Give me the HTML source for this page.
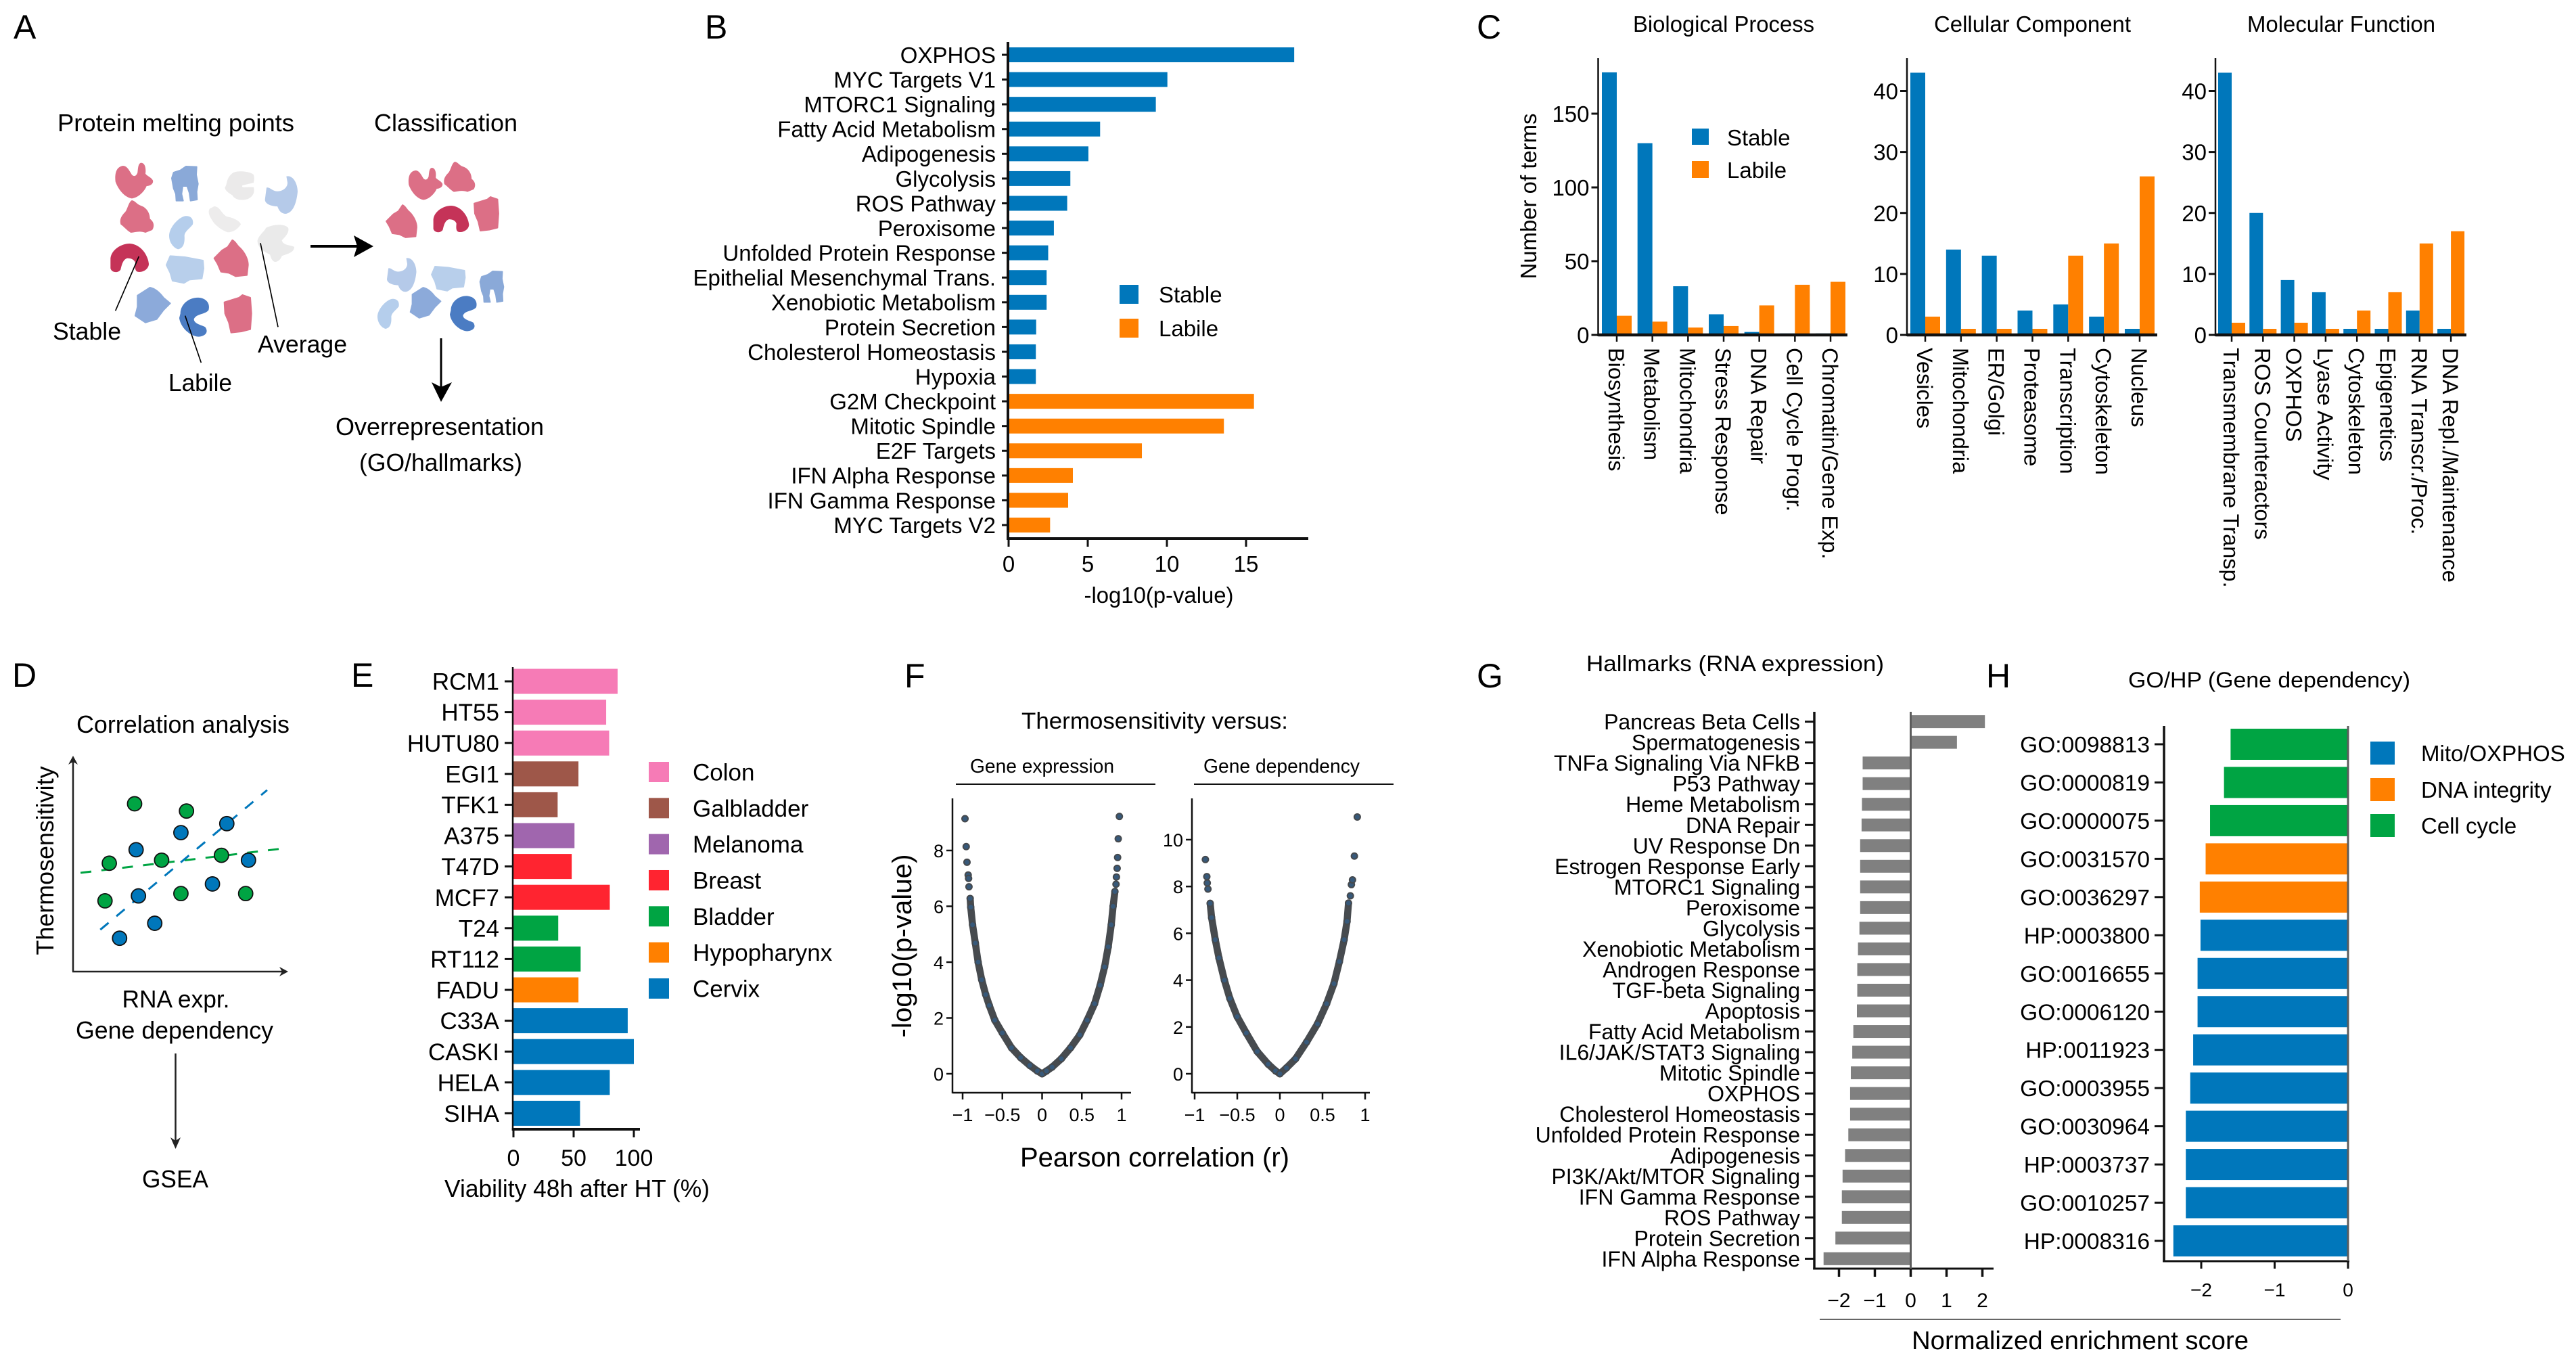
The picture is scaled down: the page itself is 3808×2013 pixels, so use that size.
<!DOCTYPE html>
<html lang="en">
<head>
<meta charset="utf-8">
<title>Thermosensitivity figure</title>
<style>
html,body{margin:0;padding:0;background:#fff;}
svg{display:block;}
text{font-family:"Liberation Sans",Arial,sans-serif;fill:#000;}
.letter{font-size:50px;fill:#000;}
.t36{font-size:36px;}
.t33{font-size:33px;}
</style>
</head>
<body>
<svg id="figure" width="3808" height="2013" viewBox="0 0 3808 2013">
<rect x="0" y="0" width="3808" height="2013" fill="#ffffff"/>
<defs>
<path id="p1" d="M245,135 C215,140 208,170 212,205 C222,235 250,275 285,280 C320,275 345,240 350,225 C365,225 382,215 378,200 C370,185 350,180 345,170 C348,150 345,122 325,122 C312,125 312,150 310,165 C305,180 295,185 285,175 C275,160 265,135 245,135 Z" fill="#dc6f86"/>
<path id="p2" d="M470,165 L500,155 L525,138 L572,140 L570,175 L578,215 L572,250 L574,285 L545,290 L540,255 L530,225 L510,225 L505,260 L512,290 L482,290 L480,260 L470,235 L462,190 Z" fill="#8aa9d8" stroke="#8aa9d8" stroke-width="6" stroke-linejoin="round"/>
<path id="p3" d="M735,165 C760,155 810,160 825,175 C830,195 825,205 825,210 L775,222 C770,235 785,228 825,230 C830,250 825,270 800,282 C770,292 740,285 730,265 C710,255 695,240 698,230 C710,215 700,190 735,165 Z" fill="#ebeaea"/>
<path id="p4" d="M970,182 C1000,175 1020,215 1020,250 C1015,300 1000,345 965,348 C940,345 935,325 930,315 C905,315 875,305 875,285 L882,232 C895,228 905,245 925,248 C950,250 975,235 975,210 Z" fill="#b5cae9"/>
<path id="p5" d="M285,288 C300,290 305,305 325,312 C350,320 365,345 365,370 C385,385 385,405 375,420 L345,432 C320,422 300,430 280,432 C260,420 250,405 235,395 C230,375 235,360 255,340 C265,330 270,295 285,288 Z" fill="#dc6f86"/>
<path id="p6" d="M520,358 C545,355 560,370 555,395 C540,415 520,425 518,445 C520,475 515,500 490,505 C470,500 450,475 450,445 C450,410 490,365 520,358 Z" fill="#b5ceec"/>
<path id="p7" d="M650,315 C675,315 680,345 705,360 C735,365 765,380 768,395 C755,415 735,430 710,430 C680,420 650,395 640,375 C630,360 620,340 630,325 Z" fill="#edecec"/>
<path id="p8" d="M880,410 C910,395 960,390 978,410 C985,430 965,450 950,465 C955,490 990,485 1005,495 C1005,520 975,525 950,535 C945,550 930,565 915,560 C895,545 905,530 890,525 C860,510 840,490 842,465 C850,440 870,430 880,410 Z" fill="#eaeaea"/>
<path id="p9" d="M190,545 C195,505 240,480 275,480 C320,482 355,525 360,570 C360,595 330,610 310,605 C295,600 300,575 300,565 C295,550 280,545 265,545 C245,550 240,575 235,595 C225,612 195,610 190,590 Z" fill="#c53358"/>
<path id="p10" d="M455,535 L520,540 L600,555 L603,590 L595,635 L540,640 L515,655 L465,645 L455,610 L438,575 Z" fill="#b8cfeb" stroke="#b8cfeb" stroke-width="6" stroke-linejoin="round"/>
<path id="p11" d="M730,465 C745,470 750,490 765,500 C785,520 800,550 800,575 L795,620 L745,625 L715,610 L680,605 L665,570 L650,545 L685,510 L710,495 Z" fill="#dc6f86" stroke="#dc6f86" stroke-width="6" stroke-linejoin="round"/>
<path id="p12" d="M365,675 C390,680 410,700 425,720 L455,745 L425,775 L395,815 L345,830 L300,800 L310,760 L310,710 Z" fill="#8caada" stroke="#8caada" stroke-width="6" stroke-linejoin="round"/>
<path id="p13" d="M500,790 C500,745 545,715 585,720 C620,725 632,750 625,775 C610,795 570,790 560,815 C560,835 590,840 610,850 C625,870 615,890 580,893 C540,890 500,850 495,810 Z" fill="#4b7cc3"/>
<path id="p14" d="M695,740 L760,720 L775,708 L810,720 L815,790 L810,860 L770,870 L725,875 L715,830 L698,790 Z" fill="#dc6f86" stroke="#dc6f86" stroke-width="6" stroke-linejoin="round"/>
</defs>

<!-- Panel A -->
<g>
<text class="letter" x="20" y="57">A</text>
<text class="t36" x="85" y="194" textLength="350" lengthAdjust="spacingAndGlyphs">Protein melting points</text>
<text class="t36" x="553" y="194" textLength="212" lengthAdjust="spacingAndGlyphs">Classification</text>
<g transform="translate(100,200) scale(0.33333)">
<use href="#p1"/>
<use href="#p2"/>
<use href="#p3"/>
<use href="#p4"/>
<use href="#p5"/>
<use href="#p6"/>
<use href="#p7"/>
<use href="#p8"/>
<use href="#p9"/>
<use href="#p10"/>
<use href="#p11"/>
<use href="#p12"/>
<use href="#p13"/>
<use href="#p14"/>
<line x1="316" y1="537" x2="212" y2="778" stroke="#000" stroke-width="5"/>
<line x1="521" y1="800" x2="592" y2="1008" stroke="#000" stroke-width="5"/>
<line x1="855" y1="478" x2="933" y2="850" stroke="#000" stroke-width="5"/>
</g>
<text class="t36" x="78" y="502" textLength="101" lengthAdjust="spacingAndGlyphs">Stable</text>
<text class="t36" x="381" y="521" textLength="132" lengthAdjust="spacingAndGlyphs">Average</text>
<text class="t36" x="249" y="578" textLength="94" lengthAdjust="spacingAndGlyphs">Labile</text>
<line x1="459" y1="364" x2="530" y2="364" stroke="#000" stroke-width="4"/>
<polygon points="552,364 523,348 528,364 523,380" fill="#000"/>
<use href="#p1" transform="translate(540.6,211.4) scale(.3)"/>
<use href="#p5" transform="translate(584,149.7) scale(.31)"/>
<use href="#p11" transform="translate(376,163.5) scale(.3)"/>
<use href="#p9" transform="translate(581.7,155.2) scale(.31)"/>
<use href="#p14" transform="translate(492.5,78.6) scale(.3)"/>
<use href="#p4" transform="translate(309.5,327) scale(.3)"/>
<use href="#p10" transform="translate(506.6,233.4) scale(.3)"/>
<use href="#p2" transform="translate(571,359.5) scale(.3)"/>
<use href="#p6" transform="translate(423,334.5) scale(.3)"/>
<use href="#p12" transform="translate(519.6,229.2) scale(.29)"/>
<use href="#p13" transform="translate(516.5,221.6) scale(.3)"/>
<line x1="652" y1="500" x2="652" y2="575" stroke="#000" stroke-width="3"/>
<polygon points="652,594 638,565 652,572 668,565" fill="#000"/>
<text class="t36" x="496" y="643" textLength="308" lengthAdjust="spacingAndGlyphs">Overrepresentation</text>
<text class="t36" x="531" y="696" textLength="241" lengthAdjust="spacingAndGlyphs">(GO/hallmarks)</text>
</g>

<!-- Panel B -->
<g id="panel-b">
<text class="letter" x="1042" y="57">B</text>
<text class="t33" x="1713" y="891" text-anchor="middle" textLength="221" lengthAdjust="spacingAndGlyphs">-log10(p-value)</text>
<rect x="1655" y="421" width="28" height="28" fill="#0077bb"/>
<text class="t33" x="1713" y="447">Stable</text>
<rect x="1655" y="471" width="28" height="28" fill="#ff8000"/>
<text class="t33" x="1713" y="497">Labile</text>
</g>

<!-- Panel C -->
<g id="panel-c">
<text class="letter" x="2183" y="57">C</text>
<text class="t33" x="2414" y="47" textLength="268" lengthAdjust="spacingAndGlyphs">Biological Process</text>
<text class="t33" x="2859" y="47" textLength="291" lengthAdjust="spacingAndGlyphs">Cellular Component</text>
<text class="t33" x="3322" y="47" textLength="278" lengthAdjust="spacingAndGlyphs">Molecular Function</text>
<text class="t33" transform="translate(2271,290) rotate(-90)" text-anchor="middle" textLength="245" lengthAdjust="spacingAndGlyphs">Number of terms</text>
<rect x="2501" y="190" width="25" height="24" fill="#0077bb"/>
<text class="t33" x="2553" y="215">Stable</text>
<rect x="2501" y="238" width="25" height="25" fill="#ff8000"/>
<text class="t33" x="2553" y="263">Labile</text>
</g>

<!-- Panel D -->
<g id="panel-d">
<text class="letter" x="18" y="1015">D</text>
<text class="t36" x="113" y="1083" textLength="315" lengthAdjust="spacingAndGlyphs">Correlation analysis</text>
<text class="t36" transform="translate(79,1272) rotate(-90)" text-anchor="middle" textLength="279" lengthAdjust="spacingAndGlyphs">Thermosensitivity</text>
<line x1="108" y1="1125" x2="108" y2="1436" stroke="#222" stroke-width="2.5"/>
<line x1="107" y1="1436" x2="420" y2="1436" stroke="#222" stroke-width="2.5"/>
<polygon points="108,1117 101,1130 108,1126 115,1130" fill="#222"/>
<polygon points="426,1436 413,1429 417,1436 413,1443" fill="#222"/>
<text class="t36" x="260" y="1489" text-anchor="middle" textLength="159" lengthAdjust="spacingAndGlyphs">RNA expr.</text>
<text class="t36" x="258" y="1535" text-anchor="middle" textLength="292" lengthAdjust="spacingAndGlyphs">Gene dependency</text>
<line x1="259.5" y1="1557" x2="259.5" y2="1690" stroke="#222" stroke-width="2.5"/>
<polygon points="259.5,1698 252,1681 259.5,1686 267,1681" fill="#222"/>
<text class="t36" x="259" y="1755" text-anchor="middle" textLength="98" lengthAdjust="spacingAndGlyphs">GSEA</text>
</g>

<!-- Panel E -->
<g id="panel-e">
<text class="letter" x="519" y="1015">E</text>
<text class="t36" x="657" y="1769" textLength="392" lengthAdjust="spacingAndGlyphs">Viability 48h after HT (%)</text>
</g>

<!-- Panel F -->
<g id="panel-f">
<text class="letter" x="1337" y="1016">F</text>
<text x="1510" y="1077" font-size="34" textLength="394" lengthAdjust="spacingAndGlyphs">Thermosensitivity versus:</text>
<text x="1434" y="1142" font-size="29" textLength="213" lengthAdjust="spacingAndGlyphs">Gene expression</text>
<line x1="1413" y1="1159" x2="1708" y2="1159" stroke="#111" stroke-width="2"/>
<text x="1779" y="1142" font-size="29" textLength="231" lengthAdjust="spacingAndGlyphs">Gene dependency</text>
<line x1="1765" y1="1159" x2="2060" y2="1159" stroke="#111" stroke-width="2"/>
<text transform="translate(1347,1398) rotate(-90)" font-size="40" text-anchor="middle" textLength="271" lengthAdjust="spacingAndGlyphs">-log10(p-value)</text>
<text x="1508" y="1724" font-size="40" textLength="398" lengthAdjust="spacingAndGlyphs">Pearson correlation (r)</text>
</g>

<!-- Panel G -->
<g id="panel-g">
<text class="letter" x="2183" y="1016">G</text>
<text x="2345" y="992" font-size="33" textLength="440" lengthAdjust="spacingAndGlyphs">Hallmarks (RNA expression)</text>
<line x1="2690" y1="1950" x2="3460" y2="1950" stroke="#666" stroke-width="2"/>
<text x="2826" y="1994" font-size="38" textLength="498" lengthAdjust="spacingAndGlyphs">Normalized enrichment score</text>
</g>

<!-- Panel H -->
<g id="panel-h">
<text class="letter" x="2936" y="1016">H</text>
<text x="3146" y="1016" font-size="32" textLength="417" lengthAdjust="spacingAndGlyphs">GO/HP (Gene dependency)</text>
<rect x="3504" y="1096" width="36" height="34" fill="#0077bb"/>
<text class="t33" x="3579" y="1125">Mito/OXPHOS</text>
<rect x="3504" y="1150" width="36" height="34" fill="#ff8000"/>
<text class="t33" x="3579" y="1179">DNA integrity</text>
<rect x="3504" y="1203" width="36" height="34" fill="#00a443"/>
<text class="t33" x="3579" y="1232">Cell cycle</text>
</g>
</svg>

<script>
// ---------- Panel B data ----------
const panelBLabels = ['OXPHOS','MYC Targets V1','MTORC1 Signaling','Fatty Acid Metabolism','Adipogenesis','Glycolysis','ROS Pathway','Peroxisome','Unfolded Protein Response','Epithelial Mesenchymal Trans.','Xenobiotic Metabolism','Protein Secretion','Cholesterol Homeostasis','Hypoxia','G2M Checkpoint','Mitotic Spindle','E2F Targets','IFN Alpha Response','IFN Gamma Response','MYC Targets V2'];
const panelBValues = [18.04,10.03,9.3,5.78,5.04,3.9,3.7,2.86,2.5,2.4,2.4,1.74,1.72,1.72,15.5,13.6,8.42,4.06,3.76,2.62];
const panelBGroups = ['Stable','Stable','Stable','Stable','Stable','Stable','Stable','Stable','Stable','Stable','Stable','Stable','Stable','Stable','Labile','Labile','Labile','Labile','Labile','Labile'];
const panelBTicks = [0,5,10,15];

// ---------- Panel C data ----------
const bpCategories = ['Biosynthesis','Metabolism','Mitochondria','Stress Response','DNA Repair','Cell Cycle Progr.','Chromatin/Gene Exp.'];
const bpStable = [178,130,33,14,2,1,1];
const bpLabile = [13,9,5,6,20,34,36];
const bpTicks = [0,50,100,150];
const ccCategories = ['Vesicles','Mitochondria','ER/Golgi','Proteasome','Transcription','Cytoskeleton','Nucleus'];
const ccStable = [43,14,13,4,5,3,1];
const ccLabile = [3,1,1,1,13,15,26];
const ccTicks = [0,10,20,30,40];
const mfCategories = ['Transmembrane Transp.','ROS Counteractors','OXPHOS','Lyase Activity','Cytoskeleton','Epigenetics','RNA Transcr./Proc.','DNA Repl./Maintenance'];
const mfStable = [43,20,9,7,1,1,4,1];
const mfLabile = [2,1,2,1,4,7,15,17];
const mfTicks = [0,10,20,30,40];

// ---------- Panel D schematic data (arbitrary units) ----------
const schematicGreenX = [28.7,52.9,16.9,41.3,69.2,14.9,50.3,80.5];
const schematicGreenY = [78.5,75.1,50.7,52.1,54.4,33.1,36.5,36.5];
const schematicBlueX = [71.7,50.3,29.4,81.8,65,30.5,38.1,21.7];
const schematicBlueY = [69.2,65,57,52.1,41,35.4,22.6,15.6];
const schematicGreenFitX = [3.5,99.7];
const schematicGreenFitY = [46.2,57.8];
const schematicBlueFitX = [12.7,90.5];
const schematicBlueFitY = [19.6,84.9];

// ---------- Panel E data ----------
const panelELabels = ['RCM1','HT55','HUTU80','EGI1','TFK1','A375','T47D','MCF7','T24','RT112','FADU','C33A','CASKI','HELA','SIHA'];
const panelEValues = [86.5,77,79.5,54,36.7,50.7,48.4,80,37.2,55.8,54,94.9,100,80,55.3];
const panelEGroups = ['Colon','Colon','Colon','Galbladder','Galbladder','Melanoma','Breast','Breast','Bladder','Bladder','Hypopharynx','Cervix','Cervix','Cervix','Cervix'];
const panelELegend = ['Colon','Galbladder','Melanoma','Breast','Bladder','Hypopharynx','Cervix'];
const panelETicks = [0,50,100];

// ---------- Panel F data ----------
const exprR = [-.97,-.955,-.945,-.93,-.925,-.92,-.905,-.898,-.875,-.84,-.805,-.76,-.71,-.665,-.595,-.5,-.385,-.27,-.155,-.06,0,.056,.126,.242,.358,.474,.567,.66,.73,.786,.832,.87,.893,.916,.93,.935,.944,.95,.958,.972];
const exprP = [9.14,8.14,7.58,7.12,7,6.7,6.28,5.97,5.34,4.68,4,3.37,2.84,2.45,1.92,1.46,.93,.58,.3,.1,0,.1,.24,.54,.93,1.39,1.92,2.51,3.17,3.83,4.55,5.34,6,6.53,6.79,7.05,7.36,7.75,8.42,9.22];
const depR = [-.874,-.857,-.852,-.844,-.818,-.801,-.758,-.715,-.651,-.587,-.501,-.394,-.266,-.137,-.051,0,.077,.184,.313,.441,.548,.634,.698,.754,.788,.805,.827,.839,.852,.874,.908];
const depP = [9.15,8.42,8.15,7.89,7.28,6.67,5.73,4.95,4,3.22,2.44,1.74,.95,.41,.125,0,.25,.64,1.35,2.13,2.99,3.85,4.79,5.73,6.51,7.29,7.6,8.08,8.28,9.3,10.97];
const corrTicks = [-1,-0.5,0,0.5,1];
const exprTicks = [0,2,4,6,8];
const depTicks = [0,2,4,6,8,10];

// ---------- Panel G data ----------
const panelGLabels = ['Pancreas Beta Cells','Spermatogenesis','TNFa Signaling Via NFkB','P53 Pathway','Heme Metabolism','DNA Repair','UV Response Dn','Estrogen Response Early','MTORC1 Signaling','Peroxisome','Glycolysis','Xenobiotic Metabolism','Androgen Response','TGF-beta Signaling','Apoptosis','Fatty Acid Metabolism','IL6/JAK/STAT3 Signaling','Mitotic Spindle','OXPHOS','Cholesterol Homeostasis','Unfolded Protein Response','Adipogenesis','PI3K/Akt/MTOR Signaling','IFN Gamma Response','ROS Pathway','Protein Secretion','IFN Alpha Response'];
const panelGValues = [2.07,1.29,-1.34,-1.34,-1.36,-1.37,-1.41,-1.41,-1.41,-1.41,-1.43,-1.47,-1.49,-1.49,-1.5,-1.6,-1.63,-1.67,-1.69,-1.69,-1.74,-1.83,-1.9,-1.92,-1.92,-2.1,-2.43];
const panelGTicks = [-2,-1,0,1,2];

// ---------- Panel H data ----------
const panelHLabels = ['GO:0098813','GO:0000819','GO:0000075','GO:0031570','GO:0036297','HP:0003800','GO:0016655','GO:0006120','HP:0011923','GO:0003955','GO:0030964','HP:0003737','GO:0010257','HP:0008316'];
const panelHValues = [-1.6,-1.69,-1.88,-1.94,-2.02,-2.01,-2.05,-2.05,-2.11,-2.15,-2.21,-2.21,-2.21,-2.38];
const panelHGroups = ['Cell cycle','Cell cycle','Cell cycle','DNA integrity','DNA integrity','Mito','Mito','Mito','Mito','Mito','Mito','Mito','Mito','Mito'];
const panelHTicks = [-2,-1,0];

// ---------- helpers ----------
const root = document.getElementById('figure');
const NS = root.namespaceURI;
const palette = {Stable:'#0077bb',Labile:'#ff8000',Colon:'#f67bb6',Galbladder:'#9e5749',Melanoma:'#a066ae',Breast:'#ff2430',Bladder:'#00a443',Hypopharynx:'#ff8000',Cervix:'#0077bb',Mito:'#0077bb','DNA integrity':'#ff8000','Cell cycle':'#00a443'};
function linear(d0,r0,d1,r1){return function(v){return r0+(v-d0)*(r1-r0)/(d1-d0);};}
function slug(s){return String(s).toLowerCase().replace(/[^a-z0-9]+/g,'-').replace(/^-|-$/g,'');}
function mk(parent,tag,attrs){
  const el=document.createElementNS(NS,tag);
  for(const k in attrs){el.setAttribute(k,attrs[k]);}
  parent.appendChild(el);
  return el;
}
function seg(parent,x1,y1,x2,y2,w,color){
  return mk(parent,'line',{x1:x1,y1:y1,x2:x2,y2:y2,stroke:color||'#111','stroke-width':w});
}
function txt(parent,str,x,y,size,anchor){
  const el=mk(parent,'text',{x:x,y:y,'font-size':size,'text-anchor':anchor||'start'});
  el.textContent=str;
  return el;
}
function fmt(v){return String(v).replace('-','\u2212');}
function pane(id){return document.getElementById(id);}

// Horizontal bars with category axis on the left
function hbars(c){
  const g=pane(c.panel);
  const x=linear(c.d0,c.r0,c.d1,c.r1);
  c.labels.forEach(function(lab,i){
    const cy=c.yFirst+i*c.yStep;
    const v=c.values[i];
    const x0=x(0), x1=x(v);
    const bar=mk(g,'rect',{x:Math.min(x0,x1),y:cy-c.barH/2,width:Math.abs(x1-x0),height:c.barH,fill:c.colorOf(i)});
    
    
    const tick=seg(g,c.axisX-c.tickLen,cy,c.axisX,cy,c.tickW);
    
    
    const t=txt(g,lab,c.labelRight,cy+c.font*0.36,c.font,'end');
    
    
  });
  c.ticks.forEach(function(v){
    const px=x(v);
    const tick=seg(g,px,c.axisY,px,c.axisY+c.xTickLen,c.xTickW);
    
    
    const t=txt(g,fmt(v),px,c.tickBase,c.tickFont,'middle');
    
    
  });
  const ya=seg(g,c.axisX,c.axisTop,c.axisX,c.axisY+c.xAxisW/2,c.yAxisW);
  
  
  const xa=seg(g,c.axisX-c.yAxisW/2,c.axisY,c.axisEnd,c.axisY,c.xAxisW);
  
  
  if(c.zeroLine){
    const z=seg(g,x(0),c.axisTop,x(0),c.axisY,c.zeroLine,'#5c5c5c');
    
    
  }
}

hbars({panel:'panel-b',prefix:'b',labels:panelBLabels,values:panelBValues,colorOf:function(i){return palette[panelBGroups[i]];},
  d0:0,r0:1491,d1:15,r1:1842,yFirst:81,yStep:36.58,barH:22,axisX:1490,tickLen:9,tickW:3,labelRight:1472,font:33,
  ticks:panelBTicks,axisY:796,xTickLen:12,xTickW:3,tickBase:845,tickFont:33,axisTop:62,axisEnd:1934,yAxisW:4,xAxisW:4});

hbars({panel:'panel-e',prefix:'e',labels:panelELabels,values:panelEValues,colorOf:function(i){return palette[panelEGroups[i]];},
  d0:0,r0:759,d1:100,r1:937,yFirst:1007,yStep:45.6,barH:37,axisX:758,tickLen:12,tickW:3,labelRight:738,font:35,
  ticks:panelETicks,axisY:1669,xTickLen:12,xTickW:3,tickBase:1723,tickFont:34,axisTop:986,axisEnd:946,yAxisW:2.5,xAxisW:4});

hbars({panel:'panel-g',prefix:'g',labels:panelGLabels,values:panelGValues,colorOf:function(){return '#808080';},
  d0:0,r0:2824.5,d1:2,r1:2930.5,yFirst:1066.6,yStep:30.53,barH:19,axisX:2682,tickLen:14,tickW:3,labelRight:2661,font:32,
  ticks:panelGTicks,axisY:1875,xTickLen:12,xTickW:3.5,tickBase:1932,tickFont:30,axisTop:1052,axisEnd:2947,yAxisW:3.5,xAxisW:3,zeroLine:3});

hbars({panel:'panel-h',prefix:'h',labels:panelHLabels,values:panelHValues,colorOf:function(i){return palette[panelHGroups[i]];},
  d0:0,r0:3471,d1:-2,r1:3254,yFirst:1100,yStep:56.46,barH:46,axisX:3199,tickLen:14,tickW:3,labelRight:3178,font:33.5,
  ticks:panelHTicks,axisY:1864,xTickLen:11,xTickW:3,tickBase:1916,tickFont:28,axisTop:1073,axisEnd:3473,yAxisW:3.5,xAxisW:3,zeroLine:3});

// Panel E legend
(function(){
  const g=pane('panel-e');
  panelELegend.forEach(function(name,i){
    const cy=1141+i*53.33;
    const s=mk(g,'rect',{x:959,y:cy-15,width:30,height:30,fill:palette[name]});
    
    
    const t=txt(g,name,1024,cy+12.5,35);
    
    
  });
})();

// Panel C grouped bars
function groupedBars(c){
  const g=pane('panel-c');
  const y=linear(0,495,c.tickRef,c.tickRefY);
  c.categories.forEach(function(cat,i){
    const cx=c.xFirst+i*c.xStep;
    const a=mk(g,'rect',{x:cx-c.barW,y:y(c.stable[i]),width:c.barW,height:495-y(c.stable[i]),fill:palette.Stable});
    
    
    const b=mk(g,'rect',{x:cx,y:y(c.labile[i]),width:c.barW,height:495-y(c.labile[i]),fill:palette.Labile});
    
    
    const tick=seg(g,cx,495,cx,505,2.5);
    
    
    const t=mk(g,'text',{transform:'translate('+(cx-12)+',514) rotate(90)','font-size':32.5});
    t.textContent=cat;
    
    
  });
  c.ticks.forEach(function(v){
    const py=y(v);
    const tick=seg(g,c.axisX-10,py,c.axisX,py,3);
    
    
    const t=txt(g,v,c.axisX-13,py+12,33,'end');
    
    
  });
  const ya=seg(g,c.axisX,86,c.axisX,497,2.5);
  
  
  const xa=seg(g,c.axisX,495,c.axisEnd,495,4.5);
  
  
}
groupedBars({prefix:'bp',categories:bpCategories,stable:bpStable,labile:bpLabile,ticks:bpTicks,tickRef:150,tickRefY:168,xFirst:2390,xStep:52.67,barW:22,axisX:2362.5,axisEnd:2731});
groupedBars({prefix:'cc',categories:ccCategories,stable:ccStable,labile:ccLabile,ticks:ccTicks,tickRef:40,tickRefY:134.5,xFirst:2846,xStep:52.83,barW:22,axisX:2819,axisEnd:3189});
groupedBars({prefix:'mf',categories:mfCategories,stable:mfStable,labile:mfLabile,ticks:mfTicks,tickRef:40,tickRefY:134.5,xFirst:3299,xStep:46.3,barW:20,axisX:3275,axisEnd:3646});

// Panel D schematic
(function(){
  const g=pane('panel-d');
  const x=linear(0,108,100,425);
  const y=linear(0,1436,100,1120);
  function fit(xs,ys,color,name){
    const l=seg(g,x(xs[0]),y(ys[0]),x(xs[1]),y(ys[1]),3,color);
    l.setAttribute('stroke-dasharray','16 15');
    
    
  }
  fit(schematicGreenFitX,schematicGreenFitY,'#00a443','schematic-green-fit-line');
  fit(schematicBlueFitX,schematicBlueFitY,'#0077bb','schematic-blue-fit-line');
  schematicGreenX.forEach(function(v,i){
    const c=mk(g,'circle',{cx:x(v),cy:y(schematicGreenY[i]),r:10.5,fill:'#00a443',stroke:'#111','stroke-width':1.8});
    
    
  });
  schematicBlueX.forEach(function(v,i){
    const c=mk(g,'circle',{cx:x(v),cy:y(schematicBlueY[i]),r:10.5,fill:'#0077bb',stroke:'#111','stroke-width':1.8});
    
    
  });
})();

// Panel F volcano plots
function volcano(c){
  const g=pane('panel-f');
  const x=linear(0,c.x0,1,c.x1);
  const y=linear(0,1587,c.yRef,c.yRefPx);
  const band=[];
  c.r.forEach(function(r,i){ if(c.p[i]<c.bandMax){band.push(x(r)+','+y(c.p[i]));} });
  const line=mk(g,'polyline',{points:band.join(' '),fill:'none',stroke:'#474b4f','stroke-width':10.5,'stroke-linejoin':'round','stroke-linecap':'round'});
  
  
  c.r.forEach(function(r,i){
    const d=mk(g,'circle',{cx:x(r),cy:y(c.p[i]),r:4.5,fill:'#37597a',stroke:'#45494d','stroke-width':2});
    
    
  });
  corrTicks.forEach(function(v){
    const tick=seg(g,x(v),1615,x(v),1625,2.5);
    
    
    const t=txt(g,fmt(v),x(v),1657,27,'middle');
    
    
  });
  c.ticks.forEach(function(v){
    const tick=seg(g,c.axisX-9,y(v),c.axisX,y(v),2.5);
    
    
    const t=txt(g,v,c.axisX-13,y(v)+10,27,'end');
    
    
  });
  const ya=seg(g,c.axisX,1180,c.axisX,1616,2.5);
  
  
  const xa=seg(g,c.axisX,1615,c.axisEnd,1615,2.5);
  
  
}
volcano({prefix:'expr',r:exprR,p:exprP,ticks:exprTicks,x0:1540.5,x1:1658,yRef:8,yRefPx:1257,bandMax:6.6,axisX:1408,axisEnd:1672});
volcano({prefix:'dep',r:depR,p:depP,ticks:depTicks,x0:1892,x1:2018,yRef:10,yRefPx:1241,bandMax:7.3,axisX:1762,axisEnd:2025});
</script>
</body>
</html>
